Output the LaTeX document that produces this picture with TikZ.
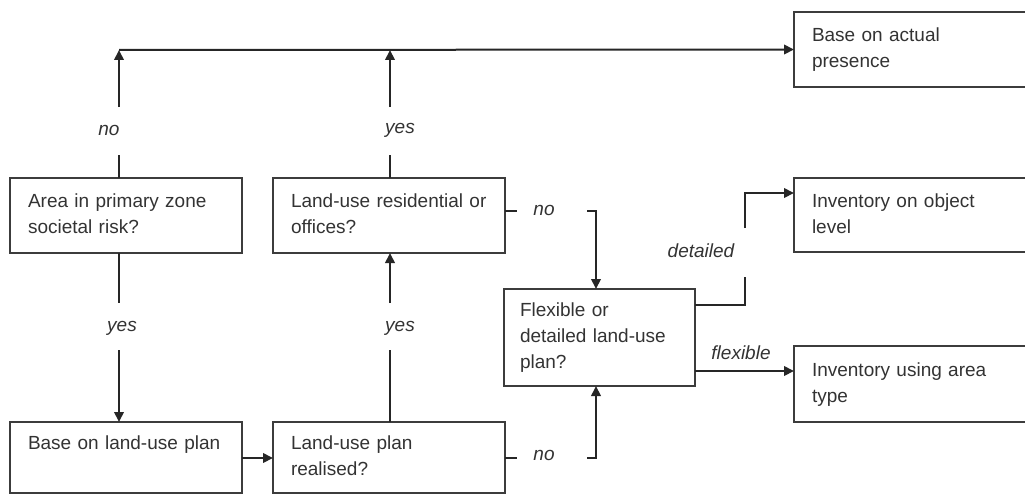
\documentclass[tikz,border=0pt]{standalone}
\usepackage{fontspec}
\setmainfont{Liberation Sans}
\usetikzlibrary{arrows.meta}
\definecolor{ink}{HTML}{262626}
\definecolor{txt}{HTML}{333333}
\definecolor{frame}{HTML}{3C3C3C}

\tikzset{
  box/.style={draw=frame, line width=2pt, anchor=north west, inner xsep=18pt,
    inner ysep=0pt, align=left, text=txt, outer sep=0pt,
    font=\fontsize{19}{26}\selectfont},
  link/.style={draw=ink, line width=2pt},
  arr/.style={link, -{Triangle[length=10pt,width=9.5pt]}},
  lbl/.style={text=txt, inner sep=0pt, font=\fontsize{19}{22}\selectfont\itshape},
}

\begin{document}
\begin{tikzpicture}[x=1pt,y=-1pt]
\useasboundingbox (0,0) rectangle (1025,495);
\clip (0,0) rectangle (1025,495);

% decision and outcome boxes
\node[box, minimum width=232pt, minimum height=75pt, text width=196pt] (A) at (10,178)
  {\strut Area in primary zone\\societal risk?\strut};
\node[box, minimum width=232pt, minimum height=75pt, text width=196pt] (B) at (273,178)
  {\strut Land-use residential or\\offices?\strut};
\node[box, minimum width=232pt, minimum height=71pt, text width=196pt] (C) at (10,422)
  {\strut Base on land-use plan\\\strut};
\node[box, minimum width=232pt, minimum height=71pt, text width=196pt] (D) at (273,422)
  {\strut Land-use plan\\realised?\strut};
\node[box, inner xsep=16pt, minimum width=191pt, minimum height=97pt, text width=159pt] (E) at (504,289)
  {\strut Flexible or\\detailed land-use\\plan?\strut};
\node[box, minimum width=260pt, minimum height=75pt, text width=224pt] (F) at (794,12)
  {\strut Base on actual\\presence\strut};
\node[box, minimum width=260pt, minimum height=74pt, text width=224pt] (G) at (794,178)
  {\strut Inventory on object\\level\strut};
\node[box, minimum width=260pt, minimum height=76pt, text width=224pt] (H) at (794,346)
  {\strut Inventory using area\\type\strut};

% bend and gap points
\coordinate (top) at (119,50);
\coordinate (a0) at (119,155);
\coordinate (a1) at (119,107);
\coordinate (b0) at (390,155);
\coordinate (b1) at (390,107);
\coordinate (a2) at (119,303);
\coordinate (a3) at (119,350);
\coordinate (d0) at (390,350);
\coordinate (d1) at (390,303);
\coordinate (cd) at (0,458);
\coordinate (bs) at (517,211);
\coordinate (bk) at (587,211);
\coordinate (bt) at (596,211);
\coordinate (ds) at (517,458);
\coordinate (dk) at (587,458);
\coordinate (dt) at (596,458);
\coordinate (e0) at (745,305);
\coordinate (e1) at (745,277);
\coordinate (e2) at (745,228);
\coordinate (e3) at (745,193);
\coordinate (ef) at (0,371);

% top route to actual presence
\draw[arr] (top) -- (F.west);

\draw[link] (A.north -| a0) -- (a0);
\node[lbl] (noA) at (109,130) {no};
\draw[arr] (a1) -- (top);

\draw[link] (B.north -| b0) -- (b0);
\node[lbl] (yesB) at (400,130) {yes};
\draw[arr] (b1) -- (b1 |- top);

% primary zone yes
\draw[link] (A.south -| a2) -- (a2);
\node[lbl] (yesA) at (122,328) {yes};
\draw[arr] (a3) -- (C.north -| a3);

% plan realised yes
\draw[link] (D.north -| d0) -- (d0);
\node[lbl] (yesD) at (400,328) {yes};
\draw[arr] (d1) -- (B.south -| d1);

\draw[arr] (C.east |- cd) -- (D.west |- cd);

% no branches into the plan question
\draw[link] (B.east |- bs) -- (bs);
\node[lbl] (noB) at (544,210) {no};
\draw[arr] (bk) -- (bt) -- (E.north -| bt);

\draw[link] (D.east |- ds) -- (ds);
\node[lbl] (noD) at (544,455) {no};
\draw[arr] (dk) -- (dt) -- (E.south -| dt);

% detailed / flexible
\draw[link] (E.east |- e0) -- (e0) -- (e1);
\node[lbl] (det) at (701,251) {detailed};
\draw[arr] (e2) -- (e3) -- (G.west |- e3);

\node[lbl] (flex) at (741,353) {flexible};
\draw[arr] (E.east |- ef) -- (H.west |- ef);
\end{tikzpicture}
\end{document}
